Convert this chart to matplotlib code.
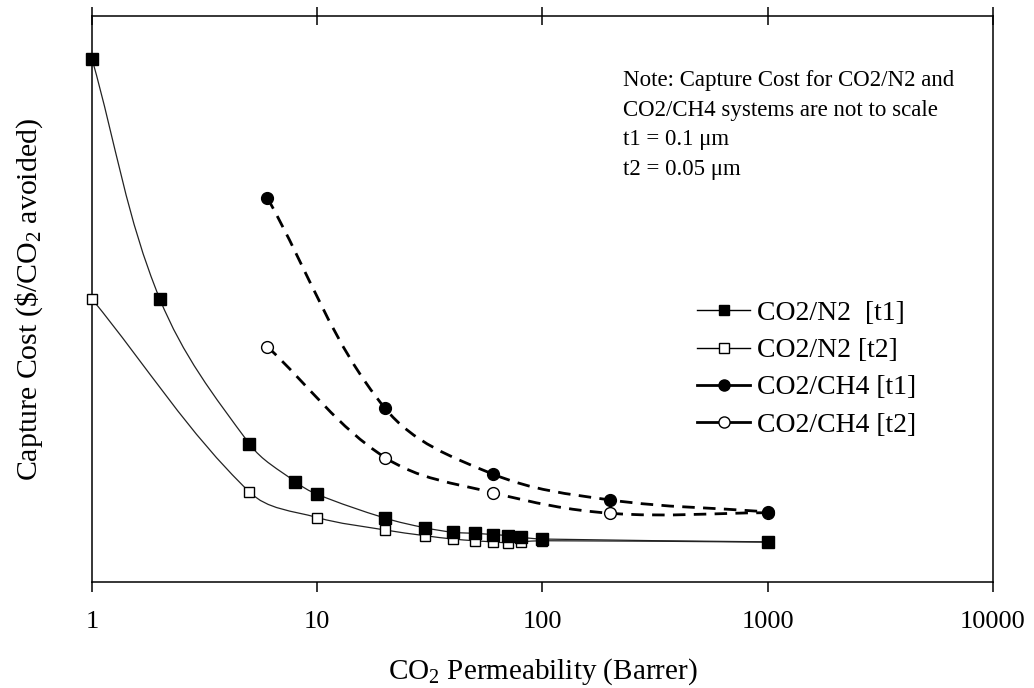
import numpy as np
import matplotlib
matplotlib.use('Agg')
import matplotlib.pyplot as plt
from matplotlib.path import Path
from matplotlib.patches import PathPatch
from matplotlib.lines import Line2D

plt.rcParams['font.family'] = ['Liberation Serif', 'DejaVu Serif']
plt.rcParams['mathtext.fontset'] = 'custom'
plt.rcParams['mathtext.rm'] = 'Liberation Serif'
plt.rcParams['mathtext.it'] = 'Liberation Serif:italic'

# values (capture cost is on an arbitrary, unlabelled scale)
n2_t1_x = [1, 2, 5, 8, 10, 20, 30, 40, 50, 60, 70, 80, 100, 1000]
n2_t1_y = [92.4, 50.0, 24.4, 17.7, 15.5, 11.3, 9.6, 8.8, 8.6, 8.4, 8.2, 7.9, 7.6, 7.1]
n2_t2_x = [1, 5, 10, 20, 30, 40, 50, 60, 70, 80, 100, 1000]
n2_t2_y = [50.0, 15.9, 11.4, 9.2, 8.2, 7.6, 7.3, 7.1, 6.95, 7.1, 7.3, 7.05]
ch4_t1_x = [6, 20, 60, 200, 1000]
ch4_t1_y = [67.9, 30.7, 19.1, 14.5, 12.4]
ch4_t2_x = [6, 20, 60, 200, 1000]
ch4_t2_y = [41.6, 22.0, 15.8, 12.15, 12.25]

labels = ['CO2/N2  [t1]', 'CO2/N2 [t2]', 'CO2/CH4 [t1]', 'CO2/CH4 [t2]']
note = ('Note: Capture Cost for CO2/N2 and\nCO2/CH4 systems are not to scale\n'
        't1 = 0.1 \u03bcm\nt2 = 0.05 \u03bcm')


fig = plt.figure(figsize=(10.34, 6.88), dpi=100)
ax = fig.add_axes([0.089, 0.154, 0.8713, 0.8227])
ax.set_xscale('log')
ax.set_xlim(1, 10000)
ax.set_ylim(0, 100)


def smooth_path(x, y, k=0.36):
    # smoothed line like the spreadsheet one: bezier through the points,
    # control points worked out in screen space and mapped back to data
    P = ax.transData.transform(np.column_stack([x, y]))
    n = len(P)
    inv = ax.transData.inverted()
    verts = [P[0]]
    codes = [Path.MOVETO]
    for i in range(n - 1):
        a = max(i - 1, 0)
        b = min(i + 2, n - 1)
        d0 = np.linalg.norm(P[i] - P[a])
        d1 = np.linalg.norm(P[i + 1] - P[i])
        d2 = np.linalg.norm(P[b] - P[i + 1])
        t1 = P[i + 1] - P[a]
        t2 = P[b] - P[i]
        c1 = P[i] + t1 * k * d1 / (d0 + d1)
        c2 = P[i + 1] - t2 * k * d1 / (d1 + d2)
        verts += [c1, c2, P[i + 1]]
        codes += [Path.CURVE4] * 3
    return Path(inv.transform(np.array(verts)), codes)


# curves
ax.add_patch(PathPatch(smooth_path(n2_t2_x, n2_t2_y), fill=False, lw=0.9, ec='#222222', zorder=2))
ax.add_patch(PathPatch(smooth_path(n2_t1_x, n2_t1_y), fill=False, lw=0.9, ec='#222222', zorder=2))
ax.add_patch(PathPatch(smooth_path(ch4_t2_x, ch4_t2_y), fill=False, lw=2.0, ec='black',
                       ls=(0, (4.5, 3)), zorder=2))
ax.add_patch(PathPatch(smooth_path(ch4_t1_x, ch4_t1_y), fill=False, lw=2.0, ec='black',
                       ls=(0, (4.5, 3)), zorder=2))

# markers
ax.plot(n2_t2_x, n2_t2_y, ls='none', marker='s', ms=7.5, mfc='white', mec='black', mew=1.0,
        zorder=3, clip_on=False)
ax.plot(n2_t1_x, n2_t1_y, ls='none', marker='s', ms=8, mfc='black', mec='black', zorder=4,
        clip_on=False)
ax.plot(ch4_t2_x, ch4_t2_y, ls='none', marker='o', ms=8.5, mfc='white', mec='black', mew=1.0, zorder=3)
ax.plot(ch4_t1_x, ch4_t1_y, ls='none', marker='o', ms=8.5, mfc='black', mec='black', zorder=4)

handles = [
    Line2D([], [], color='black', lw=1.0, marker='s', ms=7, mfc='black', mec='black'),
    Line2D([], [], color='black', lw=1.0, marker='s', ms=7, mfc='white', mec='black'),
    Line2D([], [], color='black', lw=2.0, marker='o', ms=8, mfc='black', mec='black'),
    Line2D([], [], color='black', lw=2.0, marker='o', ms=8, mfc='white', mec='black'),
]
ax.legend(handles, labels, loc='upper left', bbox_to_anchor=(0.672, 0.497), frameon=False,
          fontsize=20, handlelength=1.9, handletextpad=0.25, labelspacing=0.42,
          borderaxespad=0, borderpad=0)

ax.text(0.589, 0.905, note, transform=ax.transAxes, fontsize=16.5, va='top', ha='left',
        linespacing=1.55)

# axes styling
for s in ax.spines.values():
    s.set_linewidth(1.1)
ax.set_yticks([])
ax.set_xticks([1, 10, 100, 1000, 10000])
ax.set_xticklabels(['1', '10', '100', '1000', '10000'])
ax.xaxis.set_minor_locator(matplotlib.ticker.NullLocator())
ax.tick_params(axis='x', which='major', direction='out', length=7.2, width=1.1,
               labelsize=19, pad=14, top=True)
for t in ax.xaxis.get_major_ticks():
    t.tick2line.set_marker('|')
    t.tick2line.set_markersize(13)

ax.set_xlabel('CO$_2$ Permeability (Barrer)', fontsize=21, va='center')
ax.xaxis.set_label_coords(0.5, -0.158)
ax.set_ylabel('Capture Cost (\\$/CO$_2$ avoided)', fontsize=21.5, va='center')
ax.yaxis.set_label_coords(-0.07, 0.5)

fig.savefig('out.png', dpi=100)
